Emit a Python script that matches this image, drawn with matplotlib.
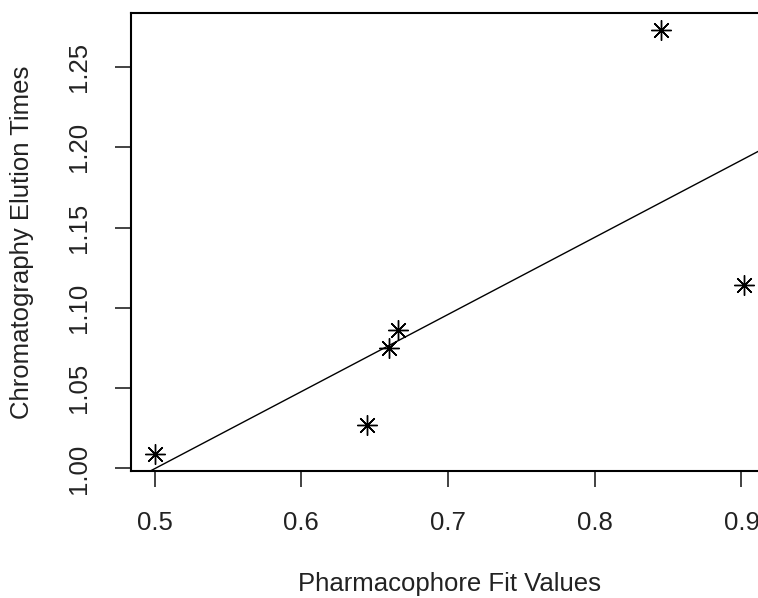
import numpy as np
import matplotlib
matplotlib.use("Agg")
import matplotlib.pyplot as plt

# pharmacophore fit vs elution time
fit_values = [0.500, 0.645, 0.660, 0.666, 0.845, 0.902]
elution_times = [1.009, 1.027, 1.075, 1.086, 1.273, 1.114]
x_ticks = [0.5, 0.6, 0.7, 0.8, 0.9]
y_ticks = [1.00, 1.05, 1.10, 1.15, 1.20, 1.25]

plt.rcParams['font.family'] = ['Liberation Sans', 'DejaVu Sans']

fig = plt.figure(figsize=(7.58, 5.98), dpi=100)
ax = fig.add_axes([131/758, 1-471/598, (768-131)/758, (471-13)/598])

x = np.array(fit_values)
y = np.array(elution_times)
ax.plot(x, y, linestyle='none', marker=(8, 2, 0), markersize=14.5,
        markeredgewidth=1.0, color='black')

# R style axis extension (4%)
xr = x.max() - x.min()
yr = y.max() - y.min()
ax.set_xlim(x.min() - 0.04*xr, x.max() + 0.04*xr)
ax.set_ylim(y.min() - 0.04*yr, y.max() + 0.04*yr)

# abline(lm(y ~ x))
slope, intercept = np.polyfit(x, y, 1)
xl = np.array(ax.get_xlim())
ax.plot(xl, intercept + slope*xl, color='black', linewidth=1.0)

ax.set_xticks(x_ticks)
ax.set_xticklabels([f"{v:.1f}" for v in x_ticks])
ax.set_yticks(y_ticks)
ax.set_yticklabels([f"{v:.2f}" for v in y_ticks], rotation=90, va='center')

ax.tick_params(length=11.5, width=1.2, labelsize=18.5, pad=17, color='#222222',
               labelcolor='#222222')
for s in ax.spines.values():
    s.set_linewidth(1.5)

ax.set_xlabel('Pharmacophore Fit Values', fontsize=18.5, labelpad=27, color='#222222')
ax.set_ylabel('Chromatography Elution Times', fontsize=18.5, labelpad=24, color='#222222')

fig.savefig('out.png', dpi=100)
